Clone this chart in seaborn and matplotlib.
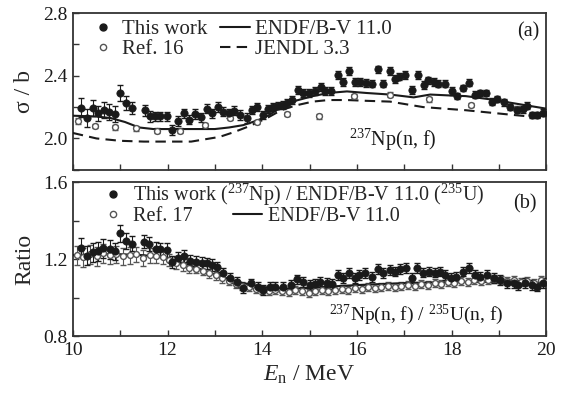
import numpy as np
import pandas as pd
import matplotlib as mpl
mpl.use("Agg")
from matplotlib import pyplot as plt
from matplotlib.lines import Line2D
import seaborn as sns

# panel (a): 237Np(n,f) cross section
tw_E = [10.17, 10.29, 10.42, 10.54, 10.66, 10.77, 10.89, 11.0, 11.13, 11.24, 11.52, 11.63, 11.74, 11.84, 11.98,
        12.1, 12.23, 12.35, 12.46, 12.59, 12.71, 12.83, 12.95, 13.06, 13.18, 13.3, 13.41, 13.53, 13.67, 13.78, 13.88,
        14.02, 14.13, 14.23, 14.34, 14.44, 14.52, 14.62, 14.75, 14.87, 14.98, 15.12, 15.24, 15.33, 15.45, 15.61,
        15.71, 15.84, 15.95, 16.07, 16.19, 16.31, 16.44, 16.56, 16.7, 16.81, 16.9, 17.02, 17.16, 17.3, 17.41, 17.51,
        17.62, 17.72, 17.86, 18.0, 18.12, 18.24, 18.36, 18.5, 18.6, 18.73, 18.85, 18.96, 19.1, 19.24, 19.38, 19.5,
        19.59, 19.7, 19.8, 19.93]
tw_sig = [2.197, 2.13, 2.195, 2.16, 2.18, 2.17, 2.157, 2.29, 2.225, 2.195, 2.18, 2.14, 2.14, 2.14, 2.14,
          2.055, 2.11, 2.16, 2.12, 2.157, 2.135, 2.19, 2.16, 2.20, 2.17, 2.16, 2.178, 2.15, 2.13, 2.18, 2.20,
          2.15, 2.19, 2.20, 2.21, 2.214, 2.225, 2.245, 2.31, 2.29, 2.29, 2.30, 2.33, 2.30, 2.30, 2.405,
          2.36, 2.43, 2.36, 2.36, 2.355, 2.35, 2.44, 2.35, 2.43, 2.38, 2.395, 2.405, 2.31, 2.405, 2.34, 2.37,
          2.36, 2.35, 2.35, 2.30, 2.27, 2.32, 2.356, 2.28, 2.29, 2.29, 2.235, 2.25, 2.23, 2.20, 2.18, 2.185,
          2.21, 2.15, 2.15, 2.165]
tw_err = [0.06, 0.06, 0.05, 0.05, 0.05, 0.05, 0.05, 0.05, 0.045, 0.04, 0.035, 0.035, 0.03, 0.03, 0.03,
          0.03, 0.03, 0.03, 0.03, 0.03, 0.03, 0.03, 0.03, 0.03, 0.03, 0.03, 0.03, 0.03, 0.03, 0.025, 0.025,
          0.025, 0.025, 0.025, 0.025, 0.025, 0.025, 0.025, 0.025, 0.025, 0.025, 0.025, 0.025, 0.025, 0.025, 0.025,
          0.025, 0.025, 0.025, 0.025, 0.025, 0.025, 0.025, 0.025, 0.025, 0.025, 0.025, 0.025, 0.025, 0.025, 0.025,
          0.025, 0.025, 0.025, 0.025, 0.025, 0.02, 0.02, 0.02, 0.02, 0.02, 0.02, 0.02, 0.02, 0.02, 0.02, 0.02,
          0.02, 0.02, 0.02, 0.02, 0.02]

r16_E = [10.1, 10.47, 10.89, 11.33, 11.77, 12.26, 12.8, 13.32, 13.88, 14.52, 15.21, 15.94, 16.71, 17.53, 18.41, 19.38]
r16_sig = [2.11, 2.08, 2.07, 2.065, 2.05, 2.05, 2.085, 2.13, 2.105, 2.155, 2.14, 2.27, 2.28, 2.25, 2.214, 2.19]
r16_err = [0.02, 0.015, 0.015, 0.015, 0.015, 0.015, 0.015, 0.015, 0.015, 0.015, 0.015, 0.015, 0.015, 0.015, 0.015, 0.015]

endf_E = [10, 10.5, 10.8, 11.1, 11.4, 11.7, 12.0, 12.5, 13.0, 13.3, 13.6, 13.9, 14.15, 14.4, 14.7, 15.07, 15.4,
          15.79, 16.2, 16.7, 17.2, 17.55, 17.9, 18.3, 18.8, 19.3, 20]
endf_sig = [2.145, 2.14, 2.13, 2.105, 2.07, 2.06, 2.06, 2.06, 2.06, 2.07, 2.085, 2.115, 2.15, 2.20, 2.24, 2.27, 2.29,
            2.30, 2.29, 2.28, 2.262, 2.28, 2.275, 2.27, 2.25, 2.225, 2.19]

jendl_E = [10, 10.5, 11.0, 11.5, 12.0, 12.5, 13.1, 13.4, 13.7, 14.1, 14.4, 14.7, 15.07, 15.4, 15.79, 16.2, 16.7,
           17.4, 18.3, 19.3, 20]
jendl_sig = [2.035, 2.0, 1.985, 1.98, 1.98, 1.98, 2.01, 2.04, 2.075, 2.13, 2.18, 2.21, 2.235, 2.245, 2.245, 2.24,
             2.235, 2.20, 2.18, 2.15, 2.13]

# panel (b): ratio to 235U(n,f)
rt_E = [10.18, 10.29, 10.42, 10.54, 10.64, 10.78, 10.89, 11.0, 11.13, 11.24, 11.5, 11.61, 11.75, 11.85, 11.98,
        12.09, 12.23, 12.35, 12.48, 12.61, 12.72, 12.83, 12.95, 13.04, 13.18, 13.32, 13.46, 13.6, 13.77, 13.92,
        14.02, 14.16, 14.27, 14.45, 14.6, 14.73, 14.87, 15.01, 15.12, 15.22, 15.36, 15.47, 15.61, 15.71, 15.84,
        15.95, 16.05, 16.17, 16.31, 16.44, 16.56, 16.69, 16.81, 16.91, 17.04, 17.16, 17.27, 17.4, 17.52, 17.64,
        17.75, 17.86, 17.98, 18.1, 18.24, 18.36, 18.5, 18.6, 18.74, 18.89, 19.03, 19.17, 19.31, 19.41, 19.55,
        19.7, 19.8, 19.94]
rt_val = [1.259, 1.217, 1.235, 1.24, 1.255, 1.25, 1.24, 1.333, 1.293, 1.28, 1.29, 1.277, 1.252, 1.25, 1.247,
          1.186, 1.207, 1.217, 1.19, 1.186, 1.18, 1.178, 1.17, 1.16, 1.126, 1.1, 1.08, 1.05, 1.074, 1.057,
          1.04, 1.057, 1.057, 1.057, 1.065, 1.094, 1.082, 1.065, 1.07, 1.082, 1.077, 1.07, 1.117, 1.1, 1.126,
          1.1, 1.117, 1.126, 1.108, 1.147, 1.126, 1.143, 1.135, 1.147, 1.152, 1.1, 1.152, 1.13, 1.135, 1.13,
          1.135, 1.117, 1.1, 1.108, 1.135, 1.152, 1.117, 1.108, 1.117, 1.1, 1.09, 1.074, 1.074, 1.065, 1.077,
          1.065, 1.057, 1.077]
rt_err = [0.05, 0.05, 0.05, 0.05, 0.05, 0.05, 0.045, 0.045, 0.04, 0.04, 0.035, 0.035, 0.035, 0.035, 0.035,
          0.03, 0.03, 0.03, 0.03, 0.03, 0.03, 0.03, 0.03, 0.025, 0.025, 0.025, 0.025, 0.025, 0.025, 0.025,
          0.025, 0.025, 0.025, 0.025, 0.025, 0.025, 0.025, 0.025, 0.025, 0.025, 0.025, 0.025, 0.025, 0.025, 0.025,
          0.025, 0.025, 0.025, 0.025, 0.025, 0.025, 0.025, 0.025, 0.025, 0.025, 0.025, 0.025, 0.025, 0.025, 0.025,
          0.025, 0.025, 0.025, 0.025, 0.025, 0.025, 0.025, 0.025, 0.025, 0.025, 0.025, 0.025, 0.025, 0.025, 0.025,
          0.025, 0.025, 0.025]

r17_E = [10.08, 10.22, 10.36, 10.5, 10.64, 10.78, 10.92, 11.06, 11.2, 11.34, 11.48, 11.62, 11.76, 11.9, 12.04,
         12.18, 12.32, 12.46, 12.6, 12.74, 12.88, 13.02, 13.16, 13.3, 13.44, 13.58, 13.72, 13.86, 14.0, 14.14,
         14.28, 14.42, 14.56, 14.7, 14.84, 14.98, 15.12, 15.26, 15.4, 15.54, 15.68, 15.82, 15.96, 16.1, 16.24,
         16.38, 16.52, 16.66, 16.8, 16.94, 17.08, 17.22, 17.36, 17.5, 17.64, 17.78, 17.92, 18.06, 18.2, 18.34,
         18.48, 18.62, 18.76, 18.9, 19.04, 19.18, 19.32, 19.46, 19.6, 19.74, 19.88, 20.0]
r17_val = [1.22, 1.21, 1.225, 1.215, 1.23, 1.22, 1.225, 1.215, 1.22, 1.225, 1.205, 1.22, 1.215, 1.21, 1.195,
           1.18, 1.17, 1.155, 1.15, 1.14, 1.125, 1.115, 1.10, 1.085, 1.07, 1.06, 1.055, 1.045, 1.04, 1.035,
           1.04, 1.035, 1.03, 1.04, 1.035, 1.025, 1.035, 1.04, 1.035, 1.04, 1.045, 1.04, 1.05, 1.045, 1.055,
           1.05, 1.055, 1.06, 1.055, 1.06, 1.065, 1.06, 1.07, 1.065, 1.075, 1.07, 1.08, 1.075, 1.085, 1.08,
           1.09, 1.085, 1.09, 1.095, 1.09, 1.085, 1.09, 1.08, 1.085, 1.075, 1.09, 1.08]
r17_err = [0.05, 0.05, 0.05, 0.05, 0.05, 0.045, 0.045, 0.045, 0.045, 0.04, 0.04, 0.04, 0.035, 0.035, 0.03,
           0.03, 0.03, 0.03, 0.025, 0.025, 0.025, 0.025, 0.025, 0.02, 0.02, 0.02, 0.02, 0.02, 0.02, 0.02,
           0.02, 0.02, 0.02, 0.02, 0.02, 0.02, 0.02, 0.02, 0.02, 0.02, 0.02, 0.02, 0.02, 0.02, 0.02,
           0.02, 0.02, 0.02, 0.02, 0.02, 0.02, 0.02, 0.02, 0.02, 0.02, 0.02, 0.02, 0.02, 0.02, 0.02,
           0.02, 0.02, 0.02, 0.02, 0.02, 0.02, 0.02, 0.02, 0.02, 0.02, 0.02, 0.02]

rendf_E = [10, 10.5, 11.0, 11.5, 12.0, 12.5, 13.0, 13.5, 14.0, 14.5, 15.0, 15.5, 16.0, 16.5, 17.0, 17.5, 18.0,
           18.5, 19.0, 19.5, 20]
rendf_val = [1.22, 1.225, 1.225, 1.22, 1.205, 1.165, 1.12, 1.08, 1.055, 1.045, 1.05, 1.058, 1.065, 1.07, 1.075,
             1.078, 1.08, 1.082, 1.08, 1.078, 1.075]

sns.set_style("ticks")
plt.rcParams['font.family'] = ['Liberation Serif', 'DejaVu Serif']
plt.rcParams['mathtext.fontset'] = 'custom'
plt.rcParams['mathtext.rm'] = 'Liberation Serif'
plt.rcParams['mathtext.it'] = 'Liberation Serif:italic'

ink = '#1a1a1a'
grey = '#555555'

fig = plt.figure(figsize=(5.69, 3.94), dpi=100)
ax1 = fig.add_axes([0.128, 0.569, 0.832, 0.398])
ax2 = fig.add_axes([0.128, 0.147, 0.832, 0.391])


def style_axis(ax):
    for s in ax.spines.values():
        s.set_linewidth(1.3)
        s.set_color('#333333')
    ax.tick_params(direction='in', length=4, width=1, colors='#333333', labelcolor=ink,
                   labelsize=14, top=False, right=False)
    ax.tick_params(axis='x', pad=4)
    ax.set_xlim(10, 20)
    ax.set_xticks(np.arange(10, 21, 1))


# ---- (a)
ax = ax1
ax.errorbar(r16_E, r16_sig, yerr=r16_err, fmt='none', ecolor=grey, elinewidth=0.8, capsize=2.5, zorder=2)
ax.errorbar(tw_E, tw_sig, yerr=tw_err, fmt='none', ecolor=ink, elinewidth=0.8, capsize=2.5, zorder=3)
sns.lineplot(x=endf_E, y=endf_sig, color=ink, lw=1.5, ax=ax, zorder=4)
sns.lineplot(x=jendl_E, y=jendl_sig, color=ink, lw=1.5, ls=(0, (5, 3)), ax=ax, zorder=4)
sns.scatterplot(x=r16_E, y=r16_sig, s=18, facecolor='white', edgecolor=grey, linewidth=1, ax=ax, zorder=5)
sns.scatterplot(x=tw_E, y=tw_sig, s=28, color=ink, edgecolor=ink, linewidth=0.5, ax=ax, zorder=6)
style_axis(ax)
ax.set_ylim(1.8, 2.8)
ax.set_yticks(np.arange(1.8, 2.81, 0.2))
ax.set_yticklabels(['', '2.0', '', '2.4', '', '2.8'])
ax.set_xticklabels([])
ax.set_ylabel('σ / b', fontsize=17, labelpad=6)
h = [Line2D([], [], ls='none', marker='o', ms=5, color=ink),
     Line2D([], [], ls='none', marker='o', ms=4.5, mfc='white', mec=grey),
     Line2D([], [], color=ink, lw=1.5),
     Line2D([], [], color=ink, lw=1.5, ls=(0, (5, 3)))]
ax.legend(h, ['This work', 'Ref. 16', 'ENDF/B-V 11.0', 'JENDL 3.3'], ncol=2, frameon=False,
          fontsize=15, loc='upper left', bbox_to_anchor=(0.032, 0.96), borderaxespad=0, borderpad=0,
          handlelength=1.45, handletextpad=0.2, columnspacing=0.6, labelspacing=0.05)
ax.text(0.962, 0.88, '(a)', transform=ax.transAxes, ha='center', va='center', fontsize=14.5, color=ink)
ax.text(0.677, 0.19, r'$^{237}$Np(n, f)', transform=ax.transAxes, ha='center', va='center',
        fontsize=14.5, color=ink)

# ---- (b)
ax = ax2
ax.errorbar(r17_E, r17_val, yerr=r17_err, fmt='none', ecolor=grey, elinewidth=0.8, capsize=2.5, zorder=2)
ax.errorbar(rt_E, rt_val, yerr=rt_err, fmt='none', ecolor=ink, elinewidth=0.8, capsize=2.5, zorder=3)
sns.lineplot(x=rendf_E, y=rendf_val, color=ink, lw=1.5, ax=ax, zorder=4)
sns.scatterplot(x=r17_E, y=r17_val, s=18, facecolor='white', edgecolor=grey, linewidth=1, ax=ax, zorder=5)
sns.scatterplot(x=rt_E, y=rt_val, s=28, color=ink, edgecolor=ink, linewidth=0.5, ax=ax, zorder=6)
style_axis(ax)
ax.set_ylim(0.8, 1.6)
ax.set_yticks(np.arange(0.8, 1.61, 0.2))
ax.set_yticklabels(['0.8', '', '1.2', '', '1.6'])
ax.set_xticklabels(['10', '', '12', '', '14', '', '16', '', '18', '', '20'])
ax.set_ylabel('Ratio', fontsize=17, labelpad=6)
ax.set_xlabel(r'$E_{\mathrm{n}}$ / MeV', fontsize=17, labelpad=4)
leg1 = ax.legend([Line2D([], [], ls='none', marker='o', ms=5, color=ink)],
                 [r'This work ($^{237}$Np) / ENDF/B-V 11.0 ($^{235}$U)'], frameon=False, fontsize=14.5,
                 loc='upper left', bbox_to_anchor=(0.053, 1.0), borderaxespad=0, borderpad=0,
                 handlelength=1.45, handletextpad=0.3)
ax.add_artist(leg1)
ax.legend([Line2D([], [], ls='none', marker='o', ms=4.5, mfc='white', mec=grey),
           Line2D([], [], color=ink, lw=1.5)], ['Ref. 17', 'ENDF/B-V 11.0'], ncol=2, frameon=False,
          fontsize=14.5, loc='upper left', bbox_to_anchor=(0.053, 0.84), borderaxespad=0, borderpad=0,
          handlelength=1.45, handletextpad=0.3, columnspacing=2.0)
ax.text(0.955, 0.86, '(b)', transform=ax.transAxes, ha='center', va='center', fontsize=14.5, color=ink)
ax.text(0.725, 0.135, r'$^{237}$Np(n, f) / $^{235}$U(n, f)', transform=ax.transAxes, ha='center',
        va='center', fontsize=14, color=ink)

fig.savefig('out.png', dpi=100)
